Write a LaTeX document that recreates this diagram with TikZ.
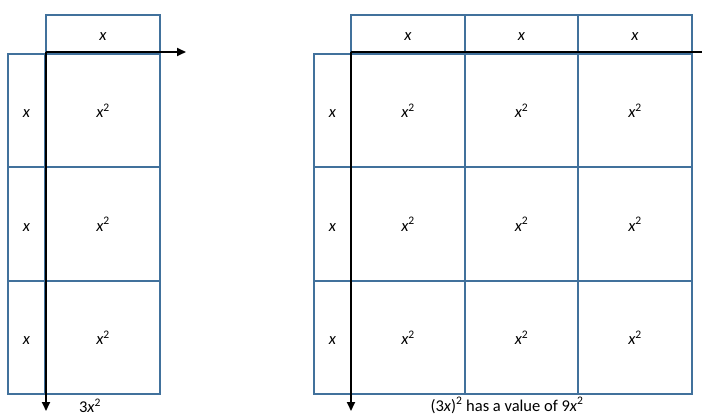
\documentclass[tikz,border=0pt]{standalone}
\usepackage{fontspec}
\setmainfont{Carlito}
\usetikzlibrary{arrows.meta}
\definecolor{boxblue}{RGB}{65,113,156}
\tikzset{
  cell/.style={draw=boxblue, line width=1.7pt, inner sep=0pt, text height=14pt, text depth=0pt,
    font=\fontsize{16.5}{19}\selectfont},
  topbox/.style={cell, minimum height=37pt},
  sidebox/.style={cell, minimum width=37pt},
  sqbox/.style={cell},
  axis/.style={draw=black, line width=2pt, -{Triangle[length=9pt,width=8pt]}},
  axisplain/.style={draw=black, line width=2pt},
  caption/.style={font=\fontsize{16.5}{19}\selectfont, inner sep=0pt}
}
\newcommand{\vx}{{\itshape x}}
\newcommand{\vxx}{{\itshape x}\textsuperscript{2}}
\begin{document}
\begin{tikzpicture}[x=1pt,y=-1pt]
  \useasboundingbox (0,0) rectangle (702,417);
  % row centres / heights shared by both figures
  % ---- single column: 3x^2 ----
  \node[topbox, minimum width=114pt] (a-top) at (103,33.5) {\vx};
  \foreach \r/\cy/\h in {1/110.5/113, 2/224/114, 3/337.5/113} {
    \node[sidebox, minimum height=\h pt] (a-side\r) at (26.5,\cy) {\vx};
    \node[sqbox, minimum width=114pt, minimum height=\h pt] (a-sq\r) at (103,\cy) {\vxx};
  }
  \coordinate (a-o) at (46,52);
  \coordinate (a-right) at (186,52);
  \coordinate (a-down) at (46,411);
  \draw[axis] (a-o) -- (a-right);
  \draw[axis] (a-o) -- (a-down);
  \node[caption] (a-cap) at (90,405.5) {3\vxx};
  % ---- full square: (3x)^2 ----
  \foreach \c/\cx/\w in {1/408/114, 2/521.5/113, 3/635/114} {
    \node[topbox, minimum width=\w pt] (b-top\c) at (\cx,33.5) {\vx};
  }
  \foreach \r/\cy/\h in {1/110.5/113, 2/224/114, 3/337.5/113} {
    \node[sidebox, minimum height=\h pt] (b-side\r) at (332.5,\cy) {\vx};
    \foreach \c/\cx/\w in {1/408/114, 2/521.5/113, 3/635/114} {
      \node[sqbox, minimum width=\w pt, minimum height=\h pt] (b-sq\r\c) at (\cx,\cy) {\vxx};
    }
  }
  \coordinate (b-o) at (351,52);
  \coordinate (b-right) at (704,52);
  \coordinate (b-down) at (351,411);
  \draw[axisplain] (b-o) -- (b-right);
  \draw[axis] (b-o) -- (b-down);
  \node[caption] (b-cap) at (507,405.5) {(3\vx)\textsuperscript{2} has a value of 9\vxx};
\end{tikzpicture}
\end{document}
